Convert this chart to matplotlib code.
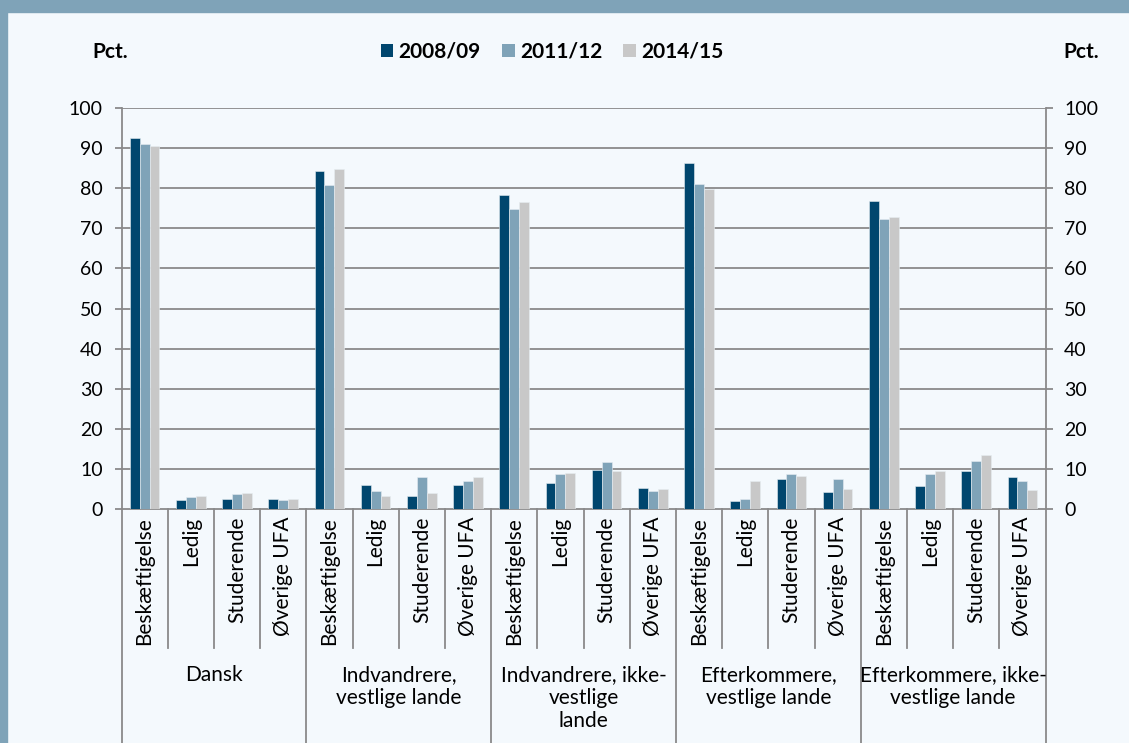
import matplotlib
matplotlib.use('Agg')
import matplotlib.pyplot as plt
from matplotlib.patches import Rectangle, Patch
import matplotlib.transforms as mtransforms

plt.rcParams['font.family'] = ['Lato', 'DejaVu Sans']

# data
kategorier = ['Beskæftigelse', 'Ledig', 'Studerende', 'Øverige UFA']
grupper = ['Dansk', 'Indvandrere,\nvestlige lande', 'Indvandrere, ikke-\nvestlige\nlande',
           'Efterkommere,\nvestlige lande', 'Efterkommere, ikke-\nvestlige lande']
serier = ['2008/09', '2011/12', '2014/15']
y2008 = [92.6, 2.3, 2.5, 2.5, 84.4, 6.1, 3.3, 6.1, 78.4, 6.6, 9.7, 5.3,
         86.3, 2.1, 7.5, 4.3, 76.9, 5.7, 9.4, 8.1]
y2011 = [91.1, 3.0, 3.7, 2.2, 80.7, 4.4, 7.9, 7.0, 74.9, 8.8, 11.6, 4.6,
         81.1, 2.5, 8.8, 7.4, 72.4, 8.8, 11.9, 6.9]
y2014 = [90.5, 3.3, 3.9, 2.5, 84.7, 3.3, 4.0, 8.0, 76.5, 9.1, 9.4, 4.9,
         79.9, 6.9, 8.2, 5.0, 72.7, 9.4, 13.4, 4.8]

farver = ['#00466E', '#7FA3B8', '#C8C8C8']
bg = '#F4F9FD'
grid_c = '#8A8A8A'

W, H = 1129, 743
fig = plt.figure(figsize=(W / 100, H / 100), dpi=100, facecolor=bg)

# frame: top band and left strip
fig.patches.append(Rectangle((0, 1 - 12 / H), 1, 12 / H, transform=fig.transFigure,
                             color='#7FA3B8', zorder=0))
fig.patches.append(Rectangle((0, 0), 7 / W, 1, transform=fig.transFigure,
                             color='#7FA3B8', zorder=0))

left, right, top, bottom = 121.5, 1045.5, 108, 509
ax = fig.add_axes([left / W, 1 - bottom / H, (right - left) / W, (bottom - top) / H])
ax.set_facecolor(bg)

n = len(y2008)
x = list(range(n))
bw = 0.215
for i, (vals, c) in enumerate(zip([y2008, y2011, y2014], farver)):
    ax.bar([xi + (i - 1) * bw for xi in x], vals, width=bw, color=c,
           edgecolor='#E6EDF2', linewidth=0.4, zorder=3, label=serier[i])

ax.set_xlim(-0.5, n - 0.5)
ax.set_ylim(0, 100)
ax.set_yticks(range(0, 101, 10))
for v in range(10, 101, 10):
    ax.axhline(v, color=grid_c, lw=1.3, zorder=1)

ax.spines['top'].set_visible(False)
for s in ['left', 'right', 'bottom']:
    ax.spines[s].set_color(grid_c)
    ax.spines[s].set_linewidth(1.3)

ax.set_xticks([])
ax.tick_params(axis='y', left=True, right=True, labelleft=True, labelright=True,
               length=5, width=1.3, color=grid_c, labelsize=14, pad=8.5)

# category labels and separators below the axis
trans = mtransforms.blended_transform_factory(ax.transData, ax.transAxes)
ph = bottom - top
y_inner = -(648 - bottom) / ph
y_outer = -(743 - bottom) / ph
for i in range(n):
    ax.text(i, -8 / ph, kategorier[i % 4], rotation=90, ha='center', va='top',
            fontsize=15, transform=trans)
for i in range(n + 1):
    yb = y_outer if i % 4 == 0 else y_inner
    ax.plot([i - 0.5, i - 0.5], [0, yb], color=grid_c, lw=1.3, transform=trans,
            clip_on=False)
for g, navn in enumerate(grupper):
    ax.text(g * 4 + 1.5, -(665 - bottom) / ph, navn, ha='center', va='top',
            fontsize=15, linespacing=1.2, transform=trans)

fig.text(110 / W, 1 - 52 / H, 'Pct.', ha='center', va='center', fontsize=15,
         fontweight='bold')
fig.text(1081 / W, 1 - 52 / H, 'Pct.', ha='center', va='center', fontsize=15,
         fontweight='bold')

handles = [Patch(facecolor=c, edgecolor='none') for c in farver]
leg = fig.legend(handles, serier, loc='center', bbox_to_anchor=(552 / W, 1 - 52 / H),
                 ncol=3, frameon=False, handlelength=0.62, handleheight=0.62,
                 handletextpad=0.25, columnspacing=1.0,
                 prop={'weight': 'bold', 'size': 15})

fig.savefig('out.png', dpi=100, facecolor=bg)
